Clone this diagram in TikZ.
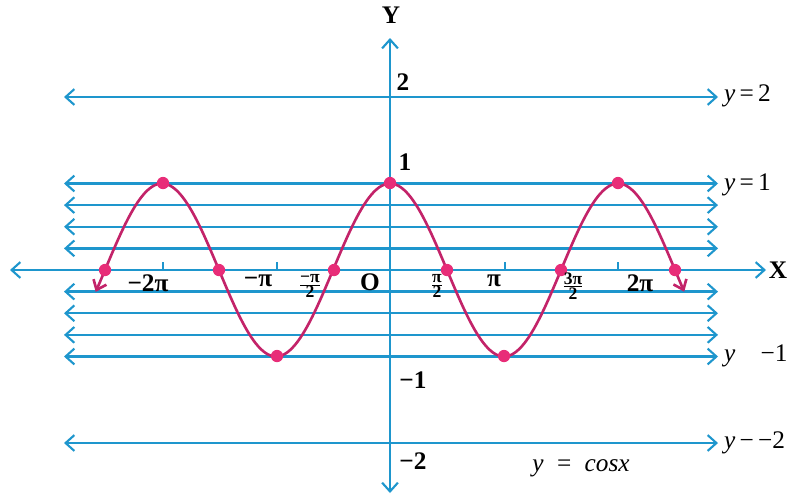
\documentclass[tikz,border=0pt]{standalone}
\usepackage{fontspec}
\setmainfont{Liberation Serif}
\usetikzlibrary{arrows.meta}
\definecolor{axisblue}{RGB}{30,150,205}
\definecolor{curvemag}{RGB}{195,35,105}
\definecolor{dotpink}{RGB}{232,45,120}
\begin{document}
\begin{tikzpicture}[x=0.02cm,y=-0.02cm,
  barb/.tip={Straight Barb[length=5pt,width=9pt,line width=1.2pt]},
  hline/.style={axisblue,line width=1.3pt,barb-barb},
  axisline/.style={axisblue,line width=1.4pt,barb-barb},
  curveline/.style={curvemag,line width=1.5pt,{Straight Barb[length=5pt,width=8pt]}-{Straight Barb[length=5pt,width=8pt]}},
  dotnode/.style={circle,fill=dotpink,inner sep=0pt,minimum size=7pt},
  ticklbl/.style={font=\bfseries\Large,inner sep=1pt},
  fraclbl/.style={font=\bfseries,inner sep=1pt},
  rlbl/.style={font=\Large,anchor=west,inner sep=1pt},
  tickmark/.style={axisblue,line width=1pt}]
\useasboundingbox (0,0) rectangle (797,495);
% horizontal lines
\foreach \k in {-4,-3,-2,-1,1,2,3,4}{
  \coordinate (L\k) at (64,{270-21.625*\k});
  \coordinate (R\k) at (718,{270-21.625*\k});
  \draw[hline] (L\k) -- (R\k);
}
\coordinate (Ltwo) at (64,97); \coordinate (Rtwo) at (718,97);
\coordinate (Lmtwo) at (64,443); \coordinate (Rmtwo) at (718,443);
\draw[hline] (Ltwo) -- (Rtwo);
\draw[hline] (Lmtwo) -- (Rmtwo);
% axes
\coordinate (xl) at (10,270); \coordinate (xr) at (766,270);
\coordinate (yb) at (390,493); \coordinate (yt) at (390,38);
\draw[axisline] (xl) -- (xr);
\draw[axisline] (yb) -- (yt);
% ticks
\foreach \t/\n in {163/a,277/b,505/c,618/d}{
  \coordinate (t\n) at (\t,262);
  \coordinate (b\n) at (\t,270);
  \draw[tickmark] (t\n) -- (b\n);
}
% curve
\draw[curveline] plot[domain=-8.11:8.11,samples=240] ({390+36.29*\x},{270-86.5*cos(\x r)});
% dots
\foreach \p/\q/\n in {105/270/z1,219/270/z2,334/270/z3,447/270/z4,561/270/z5,675/270/z6,
  163/183/m1,390/183/m2,618/183/m3,277/356/n1,504/356/n2}{
  \node[dotnode] (\n) at (\p,\q) {};
}
% axis labels
\node[font=\bfseries\Large] (X) at (778,270) {X};
\node[font=\bfseries\Large] (Y) at (391,15) {Y};
\node[ticklbl] (l2) at (403,82) {2};
\node[ticklbl] (l1) at (405,162) {1};
\node[ticklbl] (lm1) at (413,380) {−1};
\node[ticklbl] (lm2) at (413,461) {−2};
\node[ticklbl] (lO) at (370,282) {O};
\node[ticklbl] (lm2pi) at (148,283) {−2π};
\node[ticklbl] (lmpi) at (258,281) {−π};
\node[ticklbl] (lpi) at (494,281) {π};
\node[ticklbl] (l2pi) at (640,283) {2π};
\node[fraclbl] (lmhp) at (310,286) {$\frac{\mbox{\bfseries −π}}{\mbox{\bfseries 2}}$};
\node[fraclbl] (lhp) at (437,286) {$\frac{\mbox{\bfseries π}}{\mbox{\bfseries 2}}$};
\node[fraclbl] (l3hp) at (573,286) {$\frac{\mbox{\bfseries 3π}}{\mbox{\bfseries 2}}$};
% right labels
\node[rlbl] (ry2) at (722,96) {\textit{y}\,=\,2};
\node[rlbl] (ry1) at (722,185) {\textit{y}\,=\,1};
\node[rlbl] (rym1) at (722,356) {\textit{y}\quad −1};
\node[rlbl] (rym2) at (722,443) {\textit{y}\,−\,−2};
\node[font=\Large] (cap) at (581,468) {\textit{y} \;=\; \textit{cosx}};
\end{tikzpicture}
\end{document}
